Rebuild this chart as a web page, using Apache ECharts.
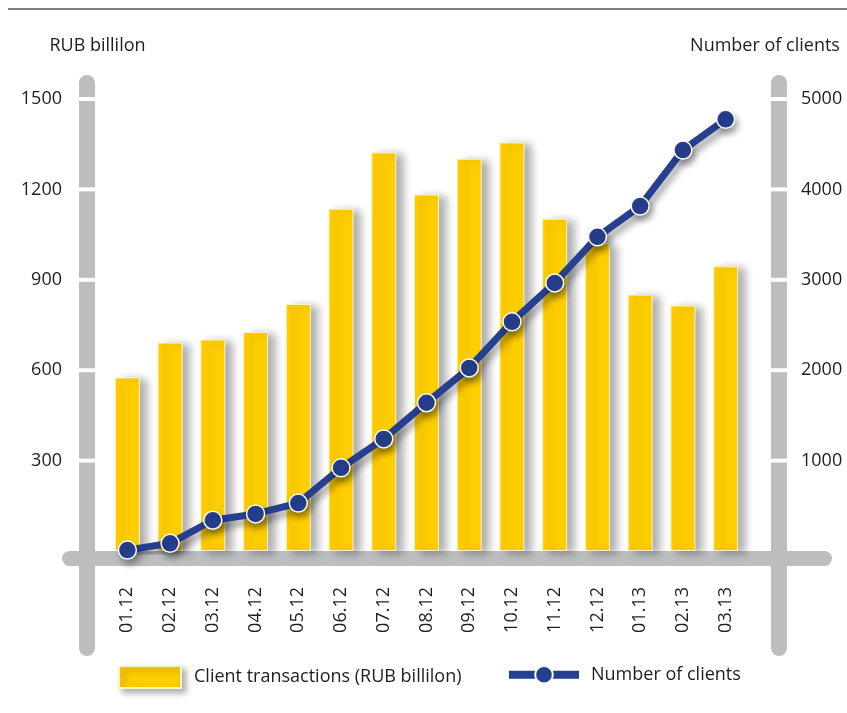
<!DOCTYPE html>
<html>
<head>
<meta charset="utf-8">
<script src="https://cdn.jsdelivr.net/npm/echarts@6/dist/echarts.min.js"></script>
<style>
  html, body { margin: 0; padding: 0; background: #fff; }
  #chart { width: 847px; height: 713px; }
</style>
</head>
<body>
<div id="chart"></div>
<script>
const months = ['01.12', '02.12', '03.12', '04.12', '05.12', '06.12', '07.12', '08.12',
  '09.12', '10.12', '11.12', '12.12', '01.13', '02.13', '03.13']
// client transactions, RUB billilon (left axis)
const transactions = [576, 692, 702, 727, 820, 1136, 1323, 1183, 1302, 1356, 1103, 1022, 851, 815, 945]
// number of clients (right axis)
const clients = [10, 85, 340, 410, 530, 920, 1240, 1640, 2025, 2535, 2965, 3475, 3815, 4435, 4775]

const leftTicks = [300, 600, 900, 1200, 1500]
const rightTicks = [1000, 2000, 3000, 4000, 5000]

const BAR_NAME = 'Client transactions (RUB billilon)'
const LINE_NAME = 'Number of clients'
const YELLOW = '#ffce00'
const BLUE = '#263f8f'
const FRAME = '#bcbdbf'
const FONT = 'Open Sans'
const TEXT = '#1e1e1e'
const FS = 18

const chart = echarts.init(document.getElementById('chart'), null, { renderer: 'canvas' })

chart.setOption({
  backgroundColor: '#fff',
  animation: false,
  textStyle: { fontFamily: FONT },
  grid: { left: 106, right: 100, top: 99, bottom: 162, containLabel: false, outerBoundsMode: 'none' },
  legend: [
    {
      data: [BAR_NAME],
      left: 118,
      top: 665,
      padding: 0,
      itemWidth: 62,
      itemHeight: 22,
      icon: 'rect',
      selectedMode: false,
      itemStyle: { shadowColor: 'rgba(0,0,0,0.3)', shadowBlur: 6, shadowOffsetX: 4, shadowOffsetY: 4 },
      textStyle: { fontSize: FS, color: TEXT, fontFamily: FONT, padding: [0, 0, 0, 8] },
    },
    {
      data: [LINE_NAME],
      left: 505,
      top: 665,
      padding: 0,
      itemWidth: 70,
      itemHeight: 22,
      selectedMode: false,
      lineStyle: { width: 8, color: BLUE },
      textStyle: { fontSize: FS, color: TEXT, fontFamily: FONT, padding: [0, 0, 0, 7] },
    },
  ],
  xAxis: {
    type: 'category',
    data: months,
    axisLine: { show: false },
    axisTick: { show: false },
    splitLine: { show: false },
    axisLabel: { rotate: 90, margin: 36, fontSize: FS, color: TEXT, fontFamily: FONT },
  },
  yAxis: [
    {
      type: 'value',
      min: 0,
      max: 1500,
      interval: 300,
      offset: 19,
      position: 'left',
      name: 'RUB billilon',
      nameLocation: 'end',
      nameGap: 44,
      nameTextStyle: { fontSize: FS, color: TEXT, fontFamily: FONT, align: 'center', padding: [0, 0, 0, 21] },
      axisLine: { show: false },
      axisTick: { show: false },
      splitLine: { show: false },
      axisLabel: {
        margin: 25,
        fontSize: FS,
        color: TEXT,
        fontFamily: FONT,
        formatter: (v) => (v === 0 ? '' : String(v)),
      },
    },
    {
      type: 'value',
      min: 0,
      max: 5000,
      interval: 1000,
      offset: 32,
      position: 'right',
      name: 'Number of clients',
      nameLocation: 'end',
      nameGap: 44,
      nameTextStyle: { fontSize: FS, color: TEXT, fontFamily: FONT, align: 'center', padding: [0, 28, 0, 0] },
      axisLine: { show: false },
      axisTick: { show: false },
      splitLine: { show: false },
      axisLabel: {
        margin: 22,
        fontSize: FS,
        color: TEXT,
        fontFamily: FONT,
        formatter: (v) => (v === 0 ? '' : String(v)),
      },
    },
  ],
  series: [
    {
      name: BAR_NAME,
      type: 'bar',
      data: transactions,
      barWidth: 25,
      itemStyle: {
        color: YELLOW,
        borderColor: '#fff4c4',
        borderWidth: 1,
        shadowColor: 'rgba(0,0,0,0.32)',
        shadowBlur: 8,
        shadowOffsetX: 7,
        shadowOffsetY: 2,
      },
      z: 3,
    },
    {
      name: LINE_NAME,
      type: 'line',
      yAxisIndex: 1,
      data: clients,
      symbol: 'circle',
      symbolSize: 18,
      lineStyle: {
        color: BLUE,
        width: 7,
        shadowColor: 'rgba(0,0,0,0.35)',
        shadowBlur: 7,
        shadowOffsetX: 3,
        shadowOffsetY: 6,
      },
      itemStyle: {
        color: BLUE,
        borderColor: '#fff',
        borderWidth: 1.5,
        shadowColor: 'rgba(0,0,0,0.3)',
        shadowBlur: 6,
        shadowOffsetX: 3,
        shadowOffsetY: 5,
      },
      z: 5,
    },
  ],
})

// decorative frame: rounded grey axis bars with white gaps at the ticks
function drawFrame() {
  const yPx = (v) => chart.convertToPixel({ yAxisIndex: 0 }, v)
  const zero = yPx(0)
  const top = yPx(1500) - 24
  const bottom = zero + 105
  const leftX = 87
  const rightX = 779
  const w = 16
  const els = [
    { type: 'line', shape: { x1: 8, y1: 9, x2: 847, y2: 9 }, style: { stroke: '#555', lineWidth: 1.5 } },
    { type: 'rect', shape: { x: leftX - w / 2, y: top, width: w, height: bottom - top, r: w / 2 }, style: { fill: FRAME } },
    { type: 'rect', shape: { x: rightX - w / 2, y: top, width: w, height: bottom - top, r: w / 2 }, style: { fill: FRAME } },
    { type: 'rect', shape: { x: 62, y: zero, width: 832 - 62, height: 15, r: 7.5 }, style: { fill: FRAME } },
  ]
  leftTicks.forEach((v) => {
    const y = yPx(v)
    els.push({ type: 'rect', shape: { x: leftX - w / 2 - 1, y: y - 2, width: w + 2, height: 4 }, style: { fill: '#fff' } })
  })
  rightTicks.forEach((v) => {
    const y = chart.convertToPixel({ yAxisIndex: 1 }, v)
    els.push({ type: 'rect', shape: { x: rightX - w / 2 - 1, y: y - 2, width: w + 2, height: 4 }, style: { fill: '#fff' } })
  })
  chart.setOption({ graphic: { elements: els.map((e) => ({ ...e, z: 0, silent: true })) } })
}

drawFrame()
</script>
</body>
</html>
